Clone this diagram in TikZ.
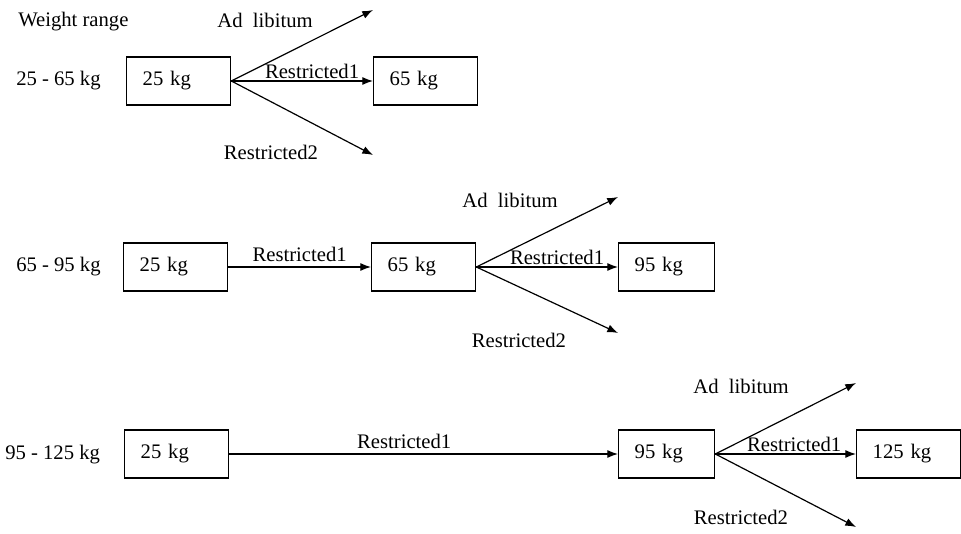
\documentclass[tikz,border=0pt]{standalone}
\usepackage{fontspec}
\setmainfont{Liberation Serif}
\usetikzlibrary{
    arrows.meta,
    positioning
}

\begin{document}
\begin{tikzpicture}[
    x=0.75pt, y=-0.75pt,
    every node/.style={font=\fontsize{15.5}{18}\selectfont},
    weight/.style={rectangle, draw, line width=1pt, anchor=west, align=left,
      inner xsep=12pt, text width=54pt, minimum height=36pt},
    narrow/.style={text width=48pt},
    tag/.style={anchor=west, inner sep=0pt},
    arrow/.style={-{Latex[length=8pt,width=6pt]}, line width=0.9pt}
]
\useasboundingbox (0,0) rectangle (961,534);

\node[tag] (title) at (18,22) {Weight range};

% 25 - 65 kg
\node[tag] (range1) at (16,81) {25 - 65 kg};
\node[weight] (a1) at (126,81) {25 kg};
\node[weight] (b1) at (373,81) {65 kg};
\coordinate (up1) at (373,10);
\coordinate (dn1) at (373,155);
\draw[arrow] (a1.east) -- (up1);
\draw[arrow] (a1.east) -- node[pos=0.57, above, inner sep=1pt]{Restricted1} (b1.west);
\draw[arrow] (a1.east) -- (dn1);
\node (lib1) at (265,20) {Ad\ \ libitum};
\node (res1) at (271,152) {Restricted2};

% 65 - 95 kg
\node[tag] (range2) at (16,267) {65 - 95 kg};
\node[weight] (a2) at (123,267) {25 kg};
\node[weight] (b2) at (371,267) {65 kg};
\node[weight, narrow] (c2) at (618,267) {95 kg};
\coordinate (up2) at (618,197);
\coordinate (dn2) at (618,333);
\draw[arrow] (a2.east) -- node[above]{Restricted1} (b2.west);
\draw[arrow] (b2.east) -- (up2);
\draw[arrow] (b2.east) -- node[pos=0.57, above, inner sep=1pt]{Restricted1} (c2.west);
\draw[arrow] (b2.east) -- (dn2);
\node (lib2) at (510,200) {Ad\ \ libitum};
\node (res2) at (519,340) {Restricted2};

% 95 - 125 kg
\node[tag] (range3) at (5,455) {95 - 125 kg};
\node[weight] (a3) at (124,454) {25 kg};
\node[weight, narrow] (c3) at (618,454) {95 kg};
\node[weight] (d3) at (856,454) {125 kg};
\coordinate (up3) at (856,383);
\coordinate (dn3) at (856,527);
\draw[arrow] (a3.east) -- node[pos=0.45, above]{Restricted1} (c3.west);
\draw[arrow] (c3.east) -- (up3);
\draw[arrow] (c3.east) -- node[pos=0.56, above, inner sep=1pt]{Restricted1} (d3.west);
\draw[arrow] (c3.east) -- (dn3);
\node (lib3) at (741,386) {Ad\ \ libitum};
\node (res3) at (741,517) {Restricted2};
\end{tikzpicture}
\end{document}
